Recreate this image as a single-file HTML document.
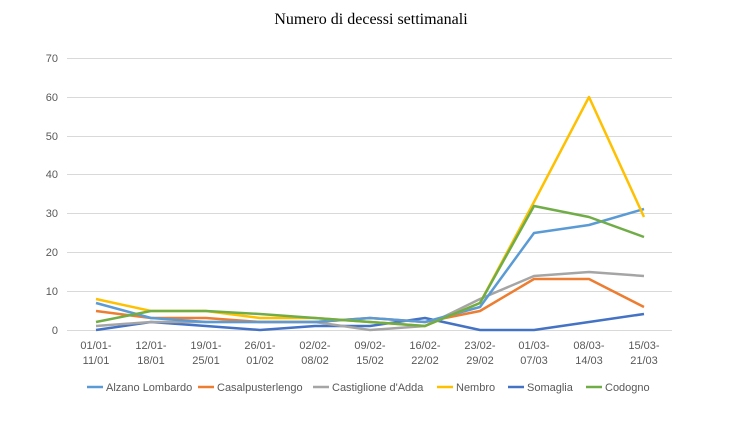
<!DOCTYPE html>
<html><head><meta charset="utf-8"><style>
body{margin:0;background:#fff}
svg text{font-family:"Liberation Sans",sans-serif;fill:#595959;font-size:11px}
</style></head><body>
<svg width="743" height="418" viewBox="0 0 743 418" xmlns="http://www.w3.org/2000/svg">
<text x="371" y="24" text-anchor="middle" style="font-family:'Liberation Serif',serif;font-size:16px;fill:#000">Numero di decessi settimanali</text>
<g stroke="#d9d9d9" stroke-width="1">
<line x1="67" x2="672" y1="58.5" y2="58.5"/><line x1="67" x2="672" y1="97.5" y2="97.5"/><line x1="67" x2="672" y1="136.5" y2="136.5"/><line x1="67" x2="672" y1="174.5" y2="174.5"/><line x1="67" x2="672" y1="213.5" y2="213.5"/><line x1="67" x2="672" y1="252.5" y2="252.5"/><line x1="67" x2="672" y1="291.5" y2="291.5"/><line x1="67" x2="672" y1="330.5" y2="330.5"/>
</g>
<g text-anchor="end">
<text x="58" y="62">70</text><text x="58" y="101">60</text><text x="58" y="140">50</text><text x="58" y="178">40</text><text x="58" y="217">30</text><text x="58" y="256">20</text><text x="58" y="295">10</text><text x="58" y="334">0</text>
</g>
<g text-anchor="middle">
<text x="96" y="349">01/01-</text><text x="96" y="364">11/01</text>
<text x="151" y="349">12/01-</text><text x="151" y="364">18/01</text>
<text x="206" y="349">19/01-</text><text x="206" y="364">25/01</text>
<text x="260" y="349">26/01-</text><text x="260" y="364">01/02</text>
<text x="315" y="349">02/02-</text><text x="315" y="364">08/02</text>
<text x="370" y="349">09/02-</text><text x="370" y="364">15/02</text>
<text x="425" y="349">16/02-</text><text x="425" y="364">22/02</text>
<text x="480" y="349">23/02-</text><text x="480" y="364">29/02</text>
<text x="534" y="349">01/03-</text><text x="534" y="364">07/03</text>
<text x="589" y="349">08/03-</text><text x="589" y="364">14/03</text>
<text x="644" y="349">15/03-</text><text x="644" y="364">21/03</text>
</g>
<g fill="none" stroke-width="2.5" stroke-linejoin="round">
<polyline stroke="#4472C4" points="96,330 151,322 206,326 260,330 315,326 370,326 425,318 480,330 534,330 589,322 644,314"/>
<polyline stroke="#A5A5A5" points="96,326 151,322 206,322 260,322 315,322 370,330 425,326 480,299 534,276 589,272 644,276"/>
<polyline stroke="#ED7D31" points="96,311 151,318 206,318 260,322 315,322 370,318 425,322 480,311 534,279 589,279 644,307"/>
<polyline stroke="#5B9BD5" points="96,303 151,318 206,322 260,322 315,322 370,318 425,322 480,307 534,233 589,225 644,209"/>
<polyline stroke="#FFC000" points="96,299 151,311 206,311 260,318 315,318 370,322 425,326 480,303 534,202 589,97 644,217"/>
<polyline stroke="#70AD47" points="96,322 151,311 206,311 260,314 315,318 370,322 425,326 480,303 534,206 589,217 644,237"/>
</g>
<g stroke-width="2.5">
<line x1="87" x2="103" y1="387" y2="387" stroke="#5B9BD5"/><text x="106" y="391">Alzano Lombardo</text>
<line x1="198" x2="214" y1="387" y2="387" stroke="#ED7D31"/><text x="217" y="391">Casalpusterlengo</text>
<line x1="313" x2="329" y1="387" y2="387" stroke="#A5A5A5"/><text x="332" y="391">Castiglione d'Adda</text>
<line x1="437" x2="453" y1="387" y2="387" stroke="#FFC000"/><text x="456" y="391">Nembro</text>
<line x1="508" x2="524" y1="387" y2="387" stroke="#4472C4"/><text x="527" y="391">Somaglia</text>
<line x1="586" x2="602" y1="387" y2="387" stroke="#70AD47"/><text x="605" y="391">Codogno</text>
</g>
</svg>
</body></html>
